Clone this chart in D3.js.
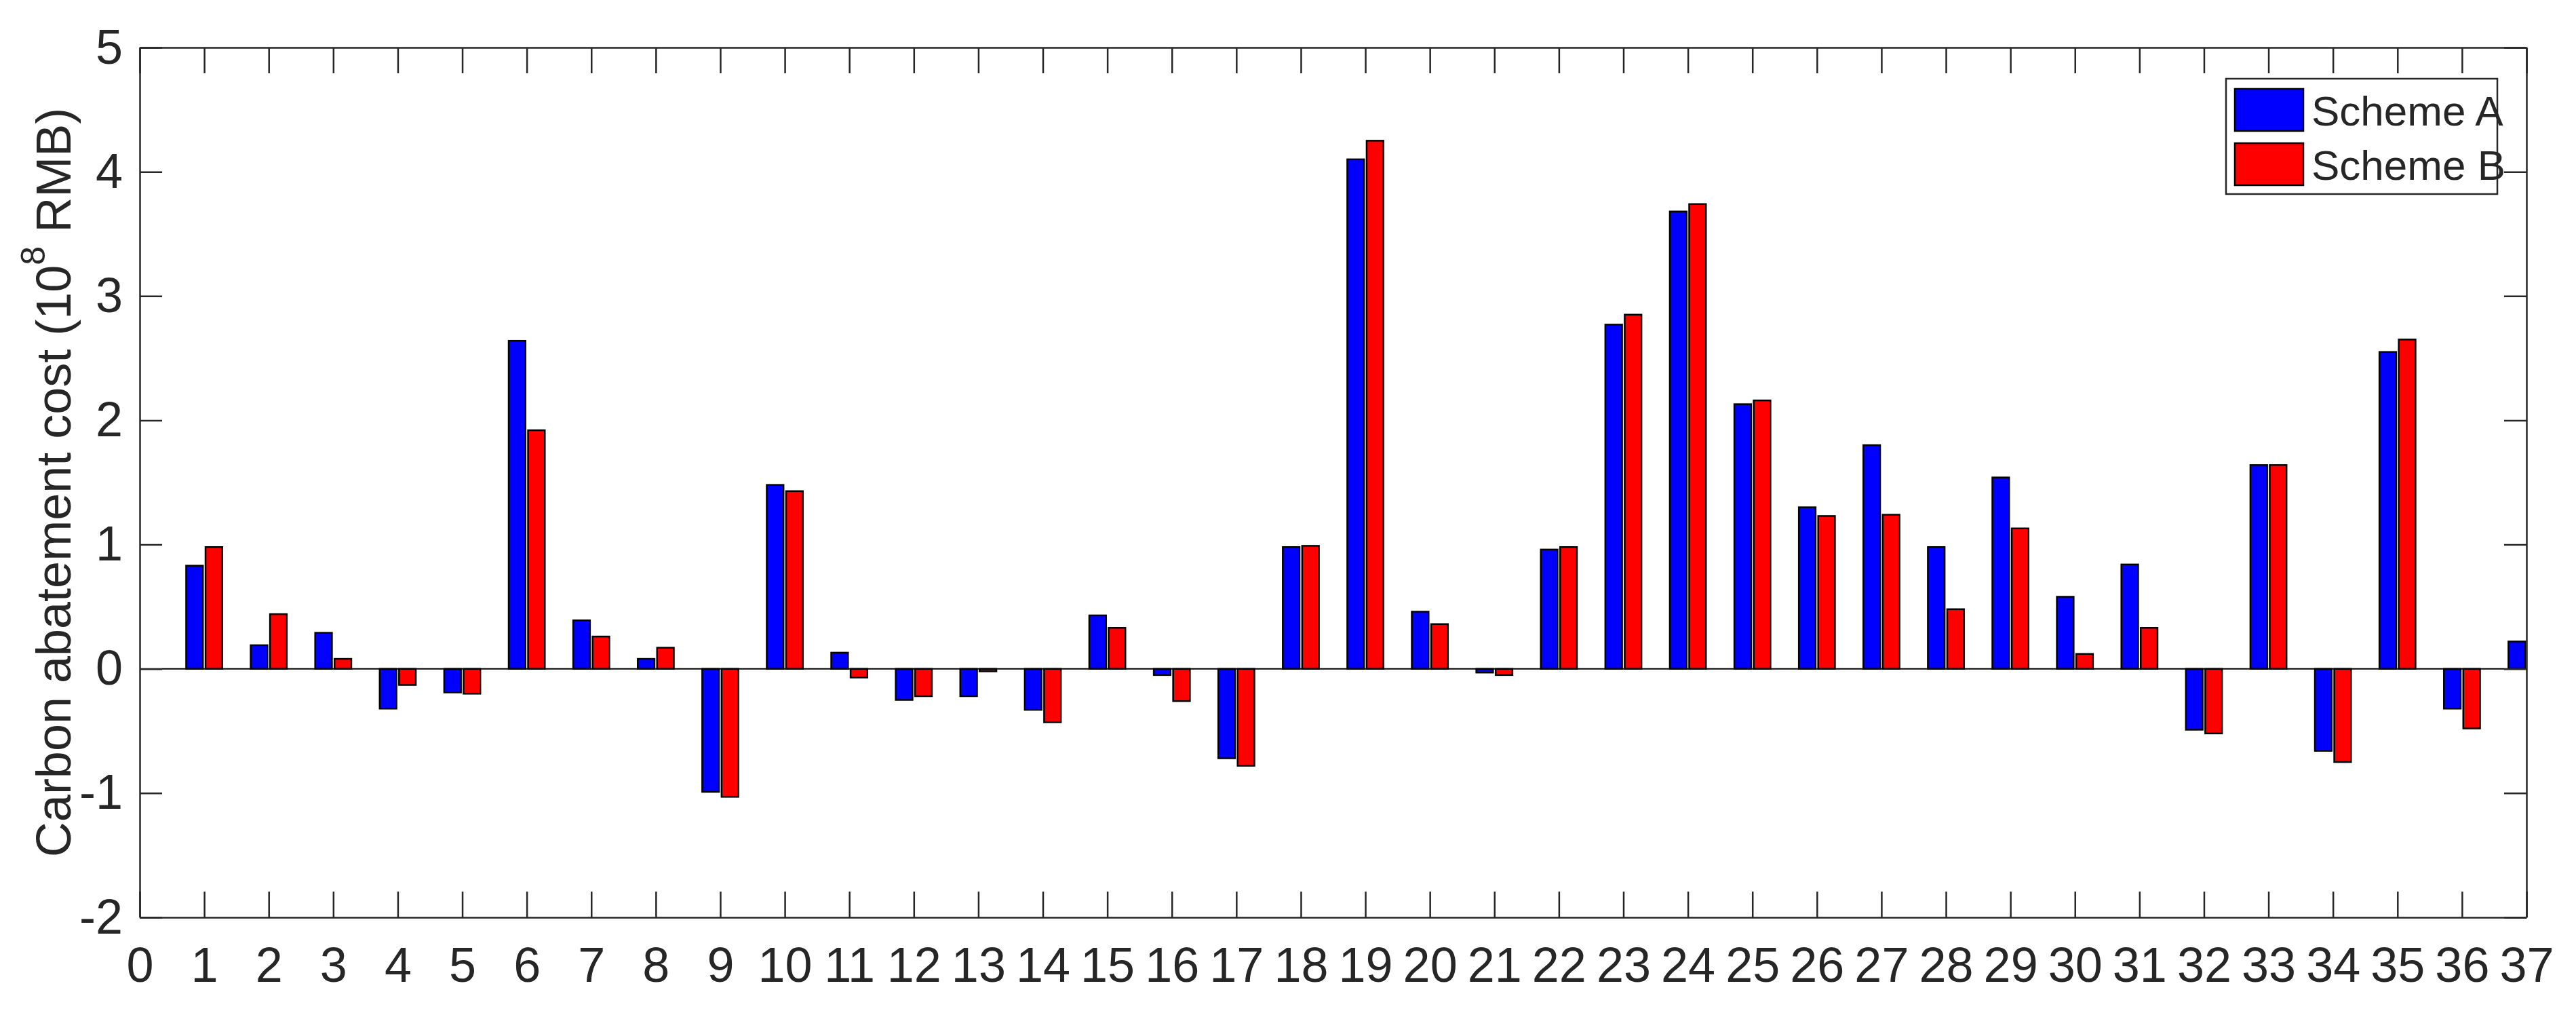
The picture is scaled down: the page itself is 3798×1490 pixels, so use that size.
<!DOCTYPE html>
<html>
<head>
<meta charset="utf-8">
<script src="https://cdn.jsdelivr.net/npm/d3@7"></script>
<style>
  body { margin: 0; background: #fff; }
  text { font-family: "Liberation Sans", Arial, sans-serif; fill: #262626; }
</style>
</head>
<body>
<div id="chart"></div>
<script>
const categories = d3.range(1, 38)
const schemeA = [0.83, 0.19, 0.29, -0.32, -0.19, 2.64, 0.39, 0.08, -0.99, 1.48,
  0.13, -0.25, -0.22, -0.33, 0.43, -0.05, -0.72, 0.98, 4.10, 0.46,
  -0.03, 0.96, 2.77, 3.68, 2.13, 1.30, 1.80, 0.98, 1.54, 0.58,
  0.84, -0.49, 1.64, -0.66, 2.55, -0.32, 0.22]
const schemeB = [0.98, 0.44, 0.08, -0.13, -0.20, 1.92, 0.26, 0.17, -1.03, 1.43,
  -0.07, -0.22, -0.02, -0.43, 0.33, -0.26, -0.78, 0.99, 4.25, 0.36,
  -0.05, 0.98, 2.85, 3.74, 2.16, 1.23, 1.24, 0.48, 1.13, 0.12,
  0.33, -0.52, 1.64, -0.75, 2.65, -0.48, null]
const xTicks = d3.range(0, 38)
const yTicks = d3.range(-2, 6)
const seriesNames = ["Scheme A", "Scheme B"]
const seriesColors = ["#0000ff", "#ff0000"]

const dimensions = {
  width: 3798,
  height: 1490,
  margin: { top: 70, right: 73, bottom: 138, left: 206 },
}
dimensions.boundedWidth = dimensions.width - dimensions.margin.left - dimensions.margin.right
dimensions.boundedHeight = dimensions.height - dimensions.margin.top - dimensions.margin.bottom

const wrapper = d3.select("#chart").append("svg")
  .attr("width", dimensions.width)
  .attr("height", dimensions.height)

const bounds = wrapper.append("g")
  .attr("transform", `translate(${dimensions.margin.left},${dimensions.margin.top})`)

// scales
const xScale = d3.scaleLinear().domain([0, 37]).range([0, dimensions.boundedWidth])
const yScale = d3.scaleLinear().domain([-2, 5]).range([dimensions.boundedHeight, 0])

bounds.append("clipPath").attr("id", "clip")
  .append("rect").attr("width", dimensions.boundedWidth).attr("height", dimensions.boundedHeight)

// bars
const barW = 0.26
const offsets = [-0.15, 0.15]
const barsG = bounds.append("g").attr("clip-path", "url(#clip)")
;[schemeA, schemeB].forEach((vals, si) => {
  barsG.selectAll(null)
    .data(categories.map((c, i) => ({ c, v: vals[i] })).filter(d => d.v != null))
    .enter().append("rect")
    .attr("x", d => xScale(d.c + offsets[si] - barW / 2))
    .attr("width", xScale(barW) - xScale(0))
    .attr("y", d => yScale(Math.max(0, d.v)))
    .attr("height", d => Math.abs(yScale(d.v) - yScale(0)))
    .attr("fill", seriesColors[si])
    .attr("stroke", "#000")
    .attr("stroke-width", 2.5)
})

// zero line
bounds.append("line")
  .attr("x1", 0).attr("x2", dimensions.boundedWidth)
  .attr("y1", yScale(0)).attr("y2", yScale(0))
  .attr("stroke", "#000").attr("stroke-width", 2)

// axes
const styleAxis = g => {
  g.select(".domain").attr("stroke", "#262626").attr("stroke-width", 2.5)
  g.selectAll(".tick line").attr("stroke", "#262626").attr("stroke-width", 2.5)
  g.selectAll(".tick text").attr("font-size", 72).attr("fill", "#262626")
    .attr("font-family", "Liberation Sans, Arial, sans-serif")
}
bounds.append("g")
  .attr("transform", `translate(0,${dimensions.boundedHeight})`)
  .call(d3.axisBottom(xScale).tickValues(xTicks).tickFormat(d3.format("d"))
    .tickSizeInner(-38).tickSizeOuter(0).tickPadding(44))
  .call(styleAxis)
bounds.append("g")
  .call(d3.axisTop(xScale).tickValues(xTicks).tickFormat("")
    .tickSizeInner(-38).tickSizeOuter(0))
  .call(styleAxis)
bounds.append("g")
  .call(d3.axisLeft(yScale).tickValues(yTicks).tickFormat(d3.format("d"))
    .tickSizeInner(-33).tickSizeOuter(0).tickPadding(25))
  .call(styleAxis)
bounds.selectAll(".tick text").filter(function () { return this.textContent.startsWith("−") })
  .text(function () { return this.textContent.replace("−", "-") })
bounds.append("g")
  .attr("transform", `translate(${dimensions.boundedWidth},0)`)
  .call(d3.axisRight(yScale).tickValues(yTicks).tickFormat("")
    .tickSizeInner(-33).tickSizeOuter(0))
  .call(styleAxis)

// y label
const yLabel = wrapper.append("text")
  .attr("transform", `translate(79,${dimensions.margin.top + dimensions.boundedHeight / 2}) rotate(-90)`)
  .attr("text-anchor", "middle")
  .attr("dominant-baseline", "central")
  .attr("font-size", 72)
yLabel.append("tspan").text("Carbon abatement cost (10")
yLabel.append("tspan").text("8").attr("font-size", 50).attr("dy", -30)
yLabel.append("tspan").text(" RMB)").attr("dy", 30)

// legend
const legend = wrapper.append("g").attr("transform", "translate(3282,116)")
legend.append("rect").attr("width", 400).attr("height", 170)
  .attr("fill", "#fff").attr("stroke", "#262626").attr("stroke-width", 2.5)
seriesNames.forEach((name, i) => {
  legend.append("rect")
    .attr("x", 13).attr("y", 15 + i * 80).attr("width", 101).attr("height", 62)
    .attr("fill", seriesColors[i]).attr("stroke", "#000").attr("stroke-width", 2.5)
  legend.append("text")
    .attr("x", 126).attr("y", 47 + i * 80)
    .attr("dominant-baseline", "central")
    .attr("font-size", 62).attr("fill", "#000")
    .text(name)
})
</script>
</body>
</html>
